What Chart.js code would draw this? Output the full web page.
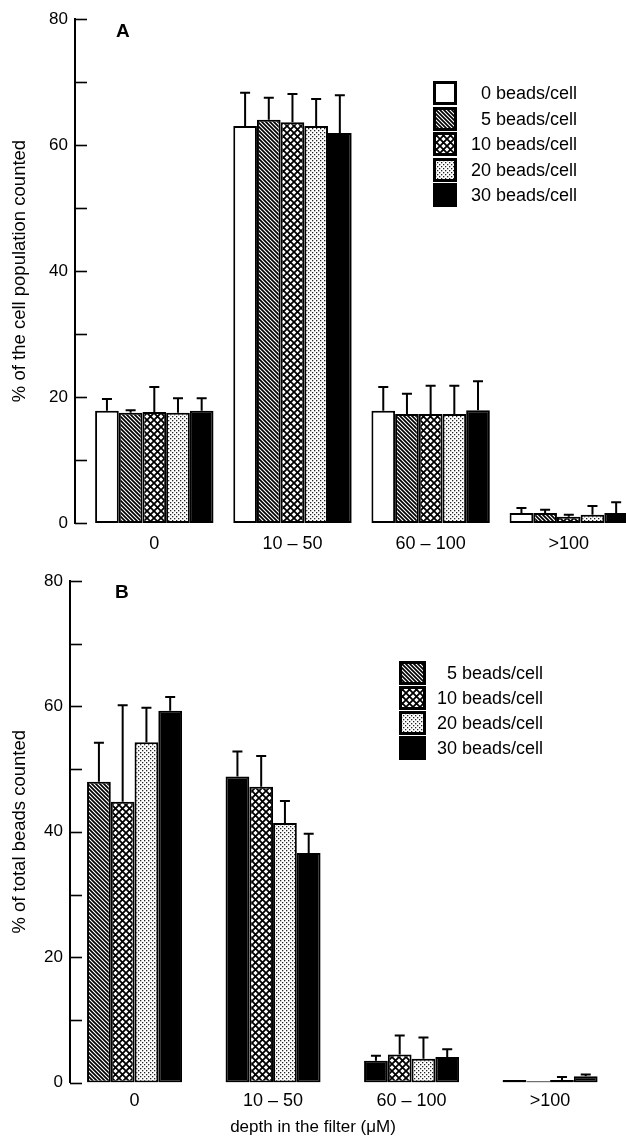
<!DOCTYPE html>
<html><head><meta charset="utf-8">
<script src="https://cdn.jsdelivr.net/npm/chart.js@4.4.1/dist/chart.umd.min.js"></script>
<style>
html,body{margin:0;padding:0;background:#fff;overflow:hidden;width:626px;height:1138px;position:relative;}
canvas.chart{position:absolute;left:0;}
#ca{top:0;}
#cb{top:560px;}
.letter{position:absolute;font:bold 19px "Liberation Sans",Arial,sans-serif;line-height:19px;color:#000;}
.legtxt{position:absolute;font:18px "Liberation Sans",Arial,sans-serif;color:#000;white-space:nowrap;}
</style>
</head><body>
<canvas id="ca" class="chart" width="626" height="560"></canvas>
<canvas id="cb" class="chart" width="626" height="578"></canvas>
<div class="letter" style="left:116px;top:21px;">A</div>
<div class="letter" style="left:115px;top:582px;">B</div>
<script>
// ---- data ----
const categories = ['0', '10 – 50', '60 – 100', '>100'];
const yMajorTicks = [0, 20, 40, 60, 80];

// Panel A: % of the cell population counted
const labelsA = ['0 beads/cell', '5 beads/cell', '10 beads/cell', '20 beads/cell', '30 beads/cell'];
const cells0  = [17.8, 63.0, 17.8, 1.6];
const cells5  = [17.5, 64.0, 17.3, 1.6];
const cells10 = [17.6, 63.6, 17.3, 1.0];
const cells20 = [17.5, 63.0, 17.3, 1.3];
const cells30 = [17.8, 61.9, 17.9, 1.6];
const errCells0  = [1.9, 5.3, 3.8, 0.8];
const errCells5  = [0.4, 3.5, 3.2, 0.5];
const errCells10 = [4.0, 4.5, 4.5, 0.3];
const errCells20 = [2.3, 4.3, 4.5, 1.4];
const errCells30 = [2.0, 6.0, 4.6, 1.7];

// Panel B: % of total beads counted
const labelsB = ['5 beads/cell', '10 beads/cell', '20 beads/cell', '30 beads/cell'];
const beads5  = [48.0, 48.8, 3.5, 0.4];
const beads10 = [44.8, 47.2, 4.5, 0.2];
const beads20 = [54.3, 41.4, 3.8, 0.4];
const beads30 = [59.3, 36.6, 4.1, 1.0];
const errBeads5  = [6.2, 4.0, 0.8, 0];
const errBeads10 = [15.4, 4.9, 3.0, 0];
const errBeads20 = [5.5, 3.5, 3.4, 0.5];
const errBeads30 = [2.2, 3.1, 1.2, 0.3];

// ---- fills ----
function makeFill(kind, ctx){
  if (kind === 'white') return '#ffffff';
  if (kind === 'black') return '#000000';
  const c = document.createElement('canvas');
  const g = c.getContext('2d');
  if (kind === 'hatch'){
    c.width = c.height = 4;
    g.fillStyle = '#fff'; g.fillRect(0,0,4,4);
    g.strokeStyle = '#000'; g.lineWidth = 1.7;
    g.beginPath();
    g.moveTo(-1,-1); g.lineTo(5,5);
    g.moveTo(-1,3); g.lineTo(1,5);
    g.moveTo(3,-1); g.lineTo(5,1);
    g.stroke();
  } else if (kind === 'cross'){
    c.width = c.height = 7;
    g.fillStyle = '#fff'; g.fillRect(0,0,7,7);
    g.strokeStyle = '#000'; g.lineWidth = 1.8;
    g.beginPath();
    g.moveTo(-1,-1); g.lineTo(8,8);
    g.moveTo(8,-1); g.lineTo(-1,8);
    g.stroke();
  } else if (kind === 'dots'){
    c.width = c.height = 4;
    g.fillStyle = '#fff'; g.fillRect(0,0,4,4);
    g.fillStyle = '#222';
    g.fillRect(0,0,1.3,1.3); g.fillRect(2,2,1.3,1.3);
  }
  return ctx.createPattern(c, 'repeat');
}

// ---- plugins ----
const errorBars = {
  id: 'errorBars',
  afterDatasetsDraw(chart){
    const ctx = chart.ctx, y = chart.scales.y;
    chart.data.datasets.forEach((ds, di) => {
      if (!ds.errors) return;
      const meta = chart.getDatasetMeta(di);
      meta.data.forEach((bar, i) => {
        const e = ds.errors[i];
        if (!e) return;
        const top = y.getPixelForValue(ds.data[i].y + e);
        ctx.save();
        ctx.strokeStyle = '#000'; ctx.lineWidth = 2;
        ctx.beginPath();
        ctx.moveTo(bar.x, bar.y); ctx.lineTo(bar.x, top);
        ctx.moveTo(bar.x - 5, top); ctx.lineTo(bar.x + 5, top);
        ctx.stroke();
        ctx.restore();
      });
    });
  }
};
const inwardTicks = {
  id: 'inwardTicks',
  afterDraw(chart){
    const y = chart.scales.y, ctx = chart.ctx, x0 = chart.chartArea.left;
    ctx.save(); ctx.strokeStyle = '#000'; ctx.lineWidth = 1.6;
    y.ticks.forEach(t => {
      const py = Math.round(y.getPixelForValue(t.value)) + 0.5;
      ctx.beginPath(); ctx.moveTo(x0, py); ctx.lineTo(x0 + 12, py); ctx.stroke();
    });
    ctx.restore();
  }
};

Chart.defaults.font.family = '"Liberation Sans", Arial, sans-serif';
Chart.defaults.color = '#000';

function makeChart(canvas, series, errs, fills, cfg){
  const ctx = canvas.getContext('2d');
  const datasets = series.map((vals, k) => ({
    data: vals.map((v, i) => ({x: i, y: v})),
    errors: errs[k],
    backgroundColor: fills[k].map(f => makeFill(f, ctx)),
    borderColor: '#000',
    borderWidth: 2,
    borderSkipped: false,
    categoryPercentage: cfg.cp,
    barPercentage: 1
  }));
  const opts = {
    responsive: false,
    animation: false,
    events: [],
    layout: {padding: {top: cfg.padTop, left: 0, right: 0, bottom: 0}},
    plugins: {
      legend: {display: false},
      tooltip: {enabled: false},
      title: cfg.xTitle ? {display: true, position: 'bottom', text: cfg.xTitle,
        font: {size: 17, weight: 'normal'}, padding: {top: 2, bottom: 0}, color: '#000'} : {display: false}
    },
    scales: {
      x: {
        type: 'linear', min: cfg.xMin, max: cfg.xMax, offset: false,
        grid: {display: false, drawTicks: false, offset: false},
        border: {display: false},
        afterBuildTicks: s => { s.ticks = categories.map((_, i) => ({value: i})); },
        ticks: {callback: v => categories[v] ?? '', padding: cfg.xPad, font: {size: 18}, maxRotation: 0, autoSkip: false},
        afterFit: s => { s.height = cfg.xHeight; }
      },
      y: {
        min: 0, max: 80,
        ticks: {stepSize: 10, callback: v => yMajorTicks.includes(v) ? String(v) : '', padding: 7, font: {size: 17}},
        grid: {display: false, drawTicks: false},
        border: {display: true, width: 2, color: '#000'},
        title: {display: true, text: cfg.yTitle, font: {size: 18.5}, padding: {top: 9, bottom: 0}},
        afterFit: s => { s.width = cfg.yWidth; }
      }
    }
  };
  return new Chart(canvas, {type: 'bar', data: {datasets}, options: opts, plugins: [errorBars, inwardTicks]});
}

makeChart(document.getElementById('ca'),
  [cells0, cells5, cells10, cells20, cells30],
  [errCells0, errCells5, errCells10, errCells20, errCells30],
  [['white','white','white','white'], ['hatch','hatch','hatch','hatch'], ['cross','cross','cross','cross'], ['dots','dots','dots','dots'], ['black','black','black','black']],
  {cp: 0.857, padTop: 19, xMin: -0.574, xMax: 3.414, xPad: 10, xHeight: 37, yWidth: 75,
   yTitle: '% of the cell population counted'});

makeChart(document.getElementById('cb'),
  [beads5, beads10, beads20, beads30],
  [errBeads5, errBeads10, errBeads20, errBeads30],
  [['hatch','black','black','black'], ['cross','cross','cross','black'], ['dots','dots','dots','black'], ['black','black','black','black']],
  {cp: 0.686, padTop: 21, xMin: -0.466, xMax: 3.548, xPad: 8, xHeight: 33, yWidth: 70,
   yTitle: '% of total beads counted', xTitle: 'depth in the filter (\u03BCM)'});

// ---- legends ----
function buildLegend(labels, kinds, boxX, boxW, boxH, textRight, top0, step){
  labels.forEach((lab, i) => {
    const top = Math.round(top0 + i * step);
    const cv = document.createElement('canvas');
    cv.width = boxW; cv.height = boxH;
    cv.style.cssText = `position:absolute;left:${boxX}px;top:${top}px;`;
    const g = cv.getContext('2d');
    g.fillStyle = makeFill(kinds[i], g); g.fillRect(0, 0, boxW, boxH);
    g.strokeStyle = '#000'; g.lineWidth = 3; g.strokeRect(1.5, 1.5, boxW - 3, boxH - 3);
    document.body.appendChild(cv);
    const t = document.createElement('div');
    t.className = 'legtxt'; t.textContent = lab;
    t.style.cssText = `left:${boxX + boxW}px;width:${textRight - boxX - boxW}px;text-align:right;top:${top}px;line-height:${boxH}px;`;
    document.body.appendChild(t);
  });
}
buildLegend(labelsA, ['white','hatch','cross','dots','black'], 433, 24, 24, 577, 81, 25.5);
buildLegend(labelsB, ['hatch','cross','dots','black'], 399, 27, 24, 543, 661, 25);
</script>
</body></html>
